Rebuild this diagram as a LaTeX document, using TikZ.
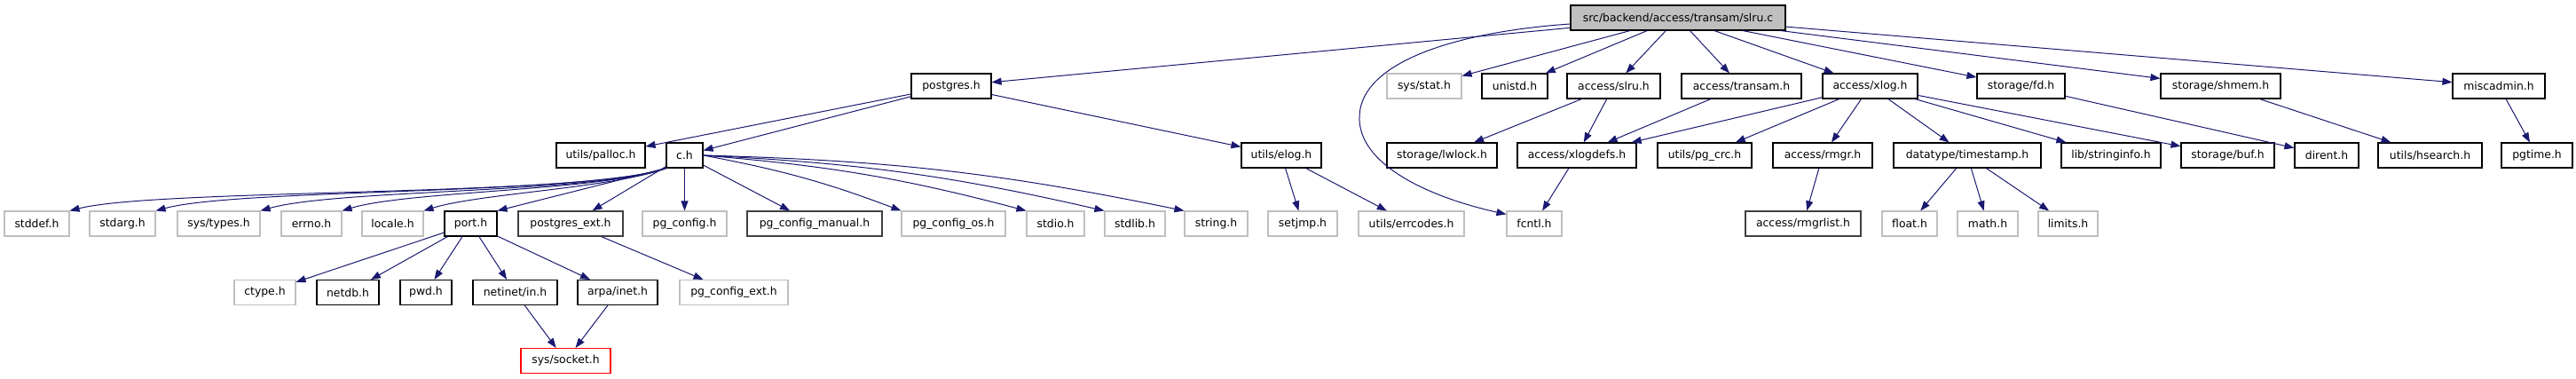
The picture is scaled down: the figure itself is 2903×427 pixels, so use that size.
\documentclass[tikz,border=0pt]{standalone}
\usepackage{fontspec}
\setmainfont{DejaVu Sans}
\usetikzlibrary{arrows.meta,calc}
\definecolor{edgec}{HTML}{191970}
\definecolor{grayb}{HTML}{BFBFBF}
\definecolor{darkb}{HTML}{404040}
\definecolor{slrufill}{HTML}{BFBFBF}
\begin{document}
\begin{tikzpicture}[x=1pt,y=-1pt,
  box/.style={draw=black,line width=1.1pt,minimum height=28pt,inner sep=0pt,font=\fontsize{12.4}{14}\selectfont,fill=white},
  gbox/.style={box,draw=grayb},
  dbox/.style={box,draw=darkb,line width=1.4pt},
  rbox/.style={box,draw=red},
  edge/.style={draw=edgec,line width=1pt,-{Triangle[length=11pt,width=8pt]}}]
\useasboundingbox (0,0) rectangle (2903,427);
% row 0
\node[box,fill=slrufill,minimum width=242pt] (slru) at (1891,20) {src/backend/access/transam/slru.c};
% row 1
\node[box,minimum width=90pt] (postgres) at (1072,97) {postgres.h};
\node[gbox,minimum width=84pt] (sysstat) at (1605,97) {sys/stat.h};
\node[box,minimum width=74pt] (unistd) at (1707,97) {unistd.h};
\node[box,minimum width=105pt] (accslru) at (1818.5,97) {access/slru.h};
\node[box,minimum width=135pt] (transam) at (1962.5,97) {access/transam.h};
\node[box,minimum width=107pt] (xlog) at (2107.5,97) {access/xlog.h};
\node[box,minimum width=99pt] (fd) at (2277.5,97) {storage/fd.h};
\node[box,minimum width=135pt] (shmem) at (2502.5,97) {storage/shmem.h};
\node[box,minimum width=104pt] (miscadmin) at (2816,97) {miscadmin.h};
% row 2
\node[box,minimum width=100pt] (palloc) at (677,175) {utils/palloc.h};
\node[box,minimum width=41pt] (ch) at (771.5,175) {c.h};
\node[box,minimum width=90pt] (elog) at (1444,175) {utils/elog.h};
\node[box,minimum width=124pt] (lwlock) at (1625,175) {storage/lwlock.h};
\node[box,minimum width=134pt] (xlogdefs) at (1777,175) {access/xlogdefs.h};
\node[box,minimum width=106pt] (pgcrc) at (1921,175) {utils/pg\_crc.h};
\node[box,minimum width=112pt] (rmgr) at (2054,175) {access/rmgr.h};
\node[box,minimum width=166pt] (timestamp) at (2217,175) {datatype/timestamp.h};
\node[box,minimum width=112pt] (stringinfo) at (2379,175) {lib/stringinfo.h};
\node[box,minimum width=105pt] (buf) at (2510.5,175) {storage/buf.h};
\node[box,minimum width=72pt] (dirent) at (2622,175) {dirent.h};
\node[box,minimum width=117pt] (hsearch) at (2738.5,175) {utils/hsearch.h};
\node[box,minimum width=80pt] (pgtime) at (2859,175) {pgtime.h};
% row 3
\node[gbox,minimum width=73pt] (stddef) at (41.5,252) {stddef.h};
\node[gbox,minimum width=74pt] (stdarg) at (138,252) {stdarg.h};
\node[gbox,minimum width=93pt] (systypes) at (246.5,252) {sys/types.h};
\node[gbox,minimum width=68pt] (errno) at (351,252) {errno.h};
\node[gbox,minimum width=69pt] (locale) at (442.5,252) {locale.h};
\node[box,minimum width=59pt] (port) at (530.5,252) {port.h};
\node[dbox,minimum width=118pt] (pgext) at (643,252) {postgres\_ext.h};
\node[gbox,minimum width=95pt] (pgconfig) at (771.5,252) {pg\_config.h};
\node[dbox,minimum width=152pt] (pgmanual) at (918,252) {pg\_config\_manual.h};
\node[gbox,minimum width=117pt] (pgos) at (1074.5,252) {pg\_config\_os.h};
\node[gbox,minimum width=65pt] (stdio) at (1189.5,252) {stdio.h};
\node[gbox,minimum width=68pt] (stdlib) at (1279,252) {stdlib.h};
\node[gbox,minimum width=71pt] (string) at (1370.5,252) {string.h};
\node[gbox,minimum width=78pt] (setjmp) at (1468,252) {setjmp.h};
\node[gbox,minimum width=119pt] (errcodes) at (1590.5,252) {utils/errcodes.h};
\node[gbox,minimum width=62pt] (fcntl) at (1729,252) {fcntl.h};
\node[dbox,minimum width=130pt] (rmgrlist) at (2032,252) {access/rmgrlist.h};
\node[gbox,minimum width=62pt] (float) at (2152,252) {float.h};
\node[gbox,minimum width=68pt] (math) at (2240,252) {math.h};
\node[gbox,minimum width=67pt] (limits) at (2330.5,252) {limits.h};
% row 4
\node[gbox,minimum width=69pt] (ctype) at (298.5,329.5) {ctype.h};
\node[box,minimum width=70pt] (netdb) at (392,329.5) {netdb.h};
\node[box,minimum width=58pt] (pwd) at (480,329.5) {pwd.h};
\node[box,minimum width=95pt] (netinet) at (580.5,329.5) {netinet/in.h};
\node[box,minimum width=90pt] (arpa) at (696,329.5) {arpa/inet.h};
\node[gbox,minimum width=122pt] (pgcfgext) at (827,329.5) {pg\_config\_ext.h};
% row 5
\node[rbox,minimum width=101pt] (socket) at (637.5,406.5) {sys/socket.h};

% edges from slru.c
\draw[edge] (slru) -- (postgres);
\draw[edge] ($(slru.west)+(0,7)$) .. controls (1640,36) and (1535,70) .. (1532,130)
  .. controls (1529,185) and (1610,222) .. ($(fcntl.north west)+(0,4)$);
\draw[edge] (slru) -- (sysstat);
\draw[edge] (slru) -- (unistd);
\draw[edge] (slru) -- (accslru);
\draw[edge] (slru) -- (transam);
\draw[edge] (slru) -- (xlog);
\draw[edge] (slru) -- (fd);
\draw[edge] (slru) -- (shmem);
\draw[edge] (slru) -- (miscadmin);
% postgres.h
\draw[edge] (postgres) -- (palloc);
\draw[edge] (postgres) -- (ch);
\draw[edge] (postgres) -- (elog);
% c.h
\draw[edge] (ch.south west) .. controls (660,222) and (180,212) .. (stddef.north east);
\draw[edge] (ch.south west) .. controls (660,220) and (270,212) .. (stdarg.north east);
\draw[edge] (ch.south west) .. controls (670,218) and (380,213) .. (systypes.north east);
\draw[edge] (ch.south west) .. controls (680,215) and (460,215) .. (errno.north east);
\draw[edge] (ch.south west) .. controls (690,212) and (540,218) .. (locale.north east);
\draw[edge] (ch.south west) -- (port.north east);
\draw[edge] (ch) -- (pgext);
\draw[edge] (ch) -- (pgconfig);
\draw[edge] (ch) -- (pgmanual);
\draw[edge] (ch.east) to[bend left=5] (pgos.north west);
\draw[edge] (ch.east) to[bend left=5] (stdio.north west);
\draw[edge] (ch.east) to[bend left=5] (stdlib.north west);
\draw[edge] (ch.east) to[bend left=5] (string.north west);
% port.h
\draw[edge] (port) -- (ctype);
\draw[edge] (port) -- (netdb);
\draw[edge] (port) -- (pwd);
\draw[edge] (port) -- (netinet);
\draw[edge] (port) -- (arpa);
\draw[edge] (netinet) -- (socket);
\draw[edge] (arpa) -- (socket);
\draw[edge] (pgext) -- (pgcfgext);
% elog
\draw[edge] (elog) -- (setjmp);
\draw[edge] (elog) -- (errcodes);
% access
\draw[edge] (accslru) -- (lwlock);
\draw[edge] (accslru) -- (xlogdefs);
\draw[edge] (transam) -- (xlogdefs);
\draw[edge] (xlog) -- (xlogdefs);
\draw[edge] (xlog) -- (pgcrc);
\draw[edge] (xlog) -- (rmgr);
\draw[edge] (xlog) -- (timestamp);
\draw[edge] (xlog) -- (stringinfo);
\draw[edge] (xlog) -- (buf);
\draw[edge] (fd) -- (dirent);
\draw[edge] (shmem) -- (hsearch);
\draw[edge] (miscadmin) -- (pgtime);
\draw[edge] (xlogdefs) -- (fcntl);
\draw[edge] (rmgr) -- (rmgrlist);
\draw[edge] (timestamp) -- (float);
\draw[edge] (timestamp) -- (math);
\draw[edge] (timestamp) -- (limits);
\end{tikzpicture}
\end{document}
